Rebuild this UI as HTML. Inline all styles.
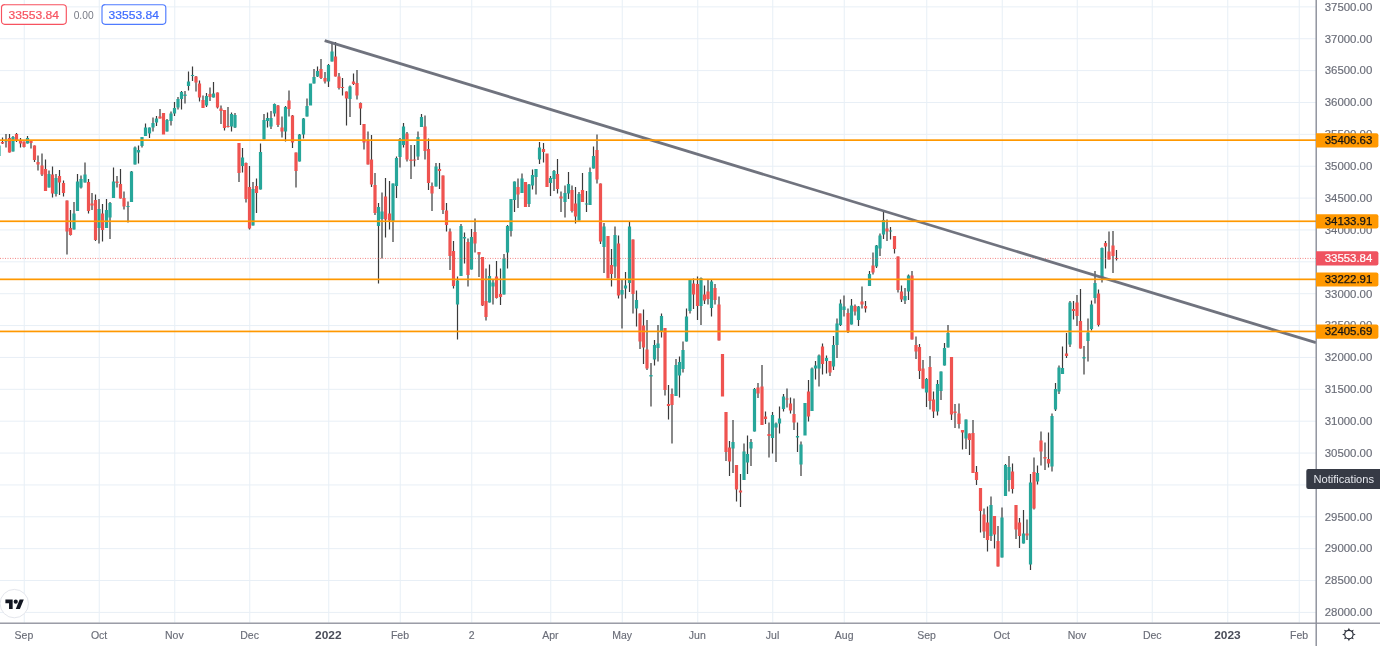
<!DOCTYPE html><html><head><meta charset="utf-8"><title>Chart</title><style>html,body{margin:0;padding:0;background:#fff;overflow:hidden}svg{display:block}</style></head><body><svg width="1380" height="646" viewBox="0 0 1380 646" font-family='"Liberation Sans", sans-serif'><rect width="1380" height="646" fill="#fff"/><g fill="#e8eff6"><rect x="23.75" y="0" width="1" height="622.5"/><rect x="98.75" y="0" width="1" height="622.5"/><rect x="174.25" y="0" width="1" height="622.5"/><rect x="249.25" y="0" width="1" height="622.5"/><rect x="328.25" y="0" width="1" height="622.5"/><rect x="399.75" y="0" width="1" height="622.5"/><rect x="471.25" y="0" width="1" height="622.5"/><rect x="550.25" y="0" width="1" height="622.5"/><rect x="621.75" y="0" width="1" height="622.5"/><rect x="697.25" y="0" width="1" height="622.5"/><rect x="772.25" y="0" width="1" height="622.5"/><rect x="843.75" y="0" width="1" height="622.5"/><rect x="926.25" y="0" width="1" height="622.5"/><rect x="1001.75" y="0" width="1" height="622.5"/><rect x="1076.75" y="0" width="1" height="622.5"/><rect x="1151.75" y="0" width="1" height="622.5"/><rect x="1227.25" y="0" width="1" height="622.5"/><rect x="1298.75" y="0" width="1" height="622.5"/><rect x="0" y="611.90" width="1316" height="1"/><rect x="0" y="580.03" width="1316" height="1"/><rect x="0" y="548.16" width="1316" height="1"/><rect x="0" y="516.29" width="1316" height="1"/><rect x="0" y="484.42" width="1316" height="1"/><rect x="0" y="452.55" width="1316" height="1"/><rect x="0" y="420.68" width="1316" height="1"/><rect x="0" y="388.81" width="1316" height="1"/><rect x="0" y="356.94" width="1316" height="1"/><rect x="0" y="325.07" width="1316" height="1"/><rect x="0" y="293.20" width="1316" height="1"/><rect x="0" y="261.33" width="1316" height="1"/><rect x="0" y="229.46" width="1316" height="1"/><rect x="0" y="197.59" width="1316" height="1"/><rect x="0" y="165.72" width="1316" height="1"/><rect x="0" y="133.85" width="1316" height="1"/><rect x="0" y="101.98" width="1316" height="1"/><rect x="0" y="70.11" width="1316" height="1"/><rect x="0" y="38.24" width="1316" height="1"/><rect x="0" y="6.37" width="1316" height="1"/></g><g fill="#3a3a3a"><rect x="-1.60" y="143.50" width="1.2" height="13.50"/><rect x="1.90" y="137.50" width="1.2" height="6.50"/><rect x="5.40" y="134.00" width="1.2" height="13.50"/><rect x="8.90" y="134.00" width="1.2" height="18.50"/><rect x="12.40" y="136.00" width="1.2" height="15.50"/><rect x="15.90" y="133.00" width="1.2" height="9.00"/><rect x="19.90" y="138.00" width="1.2" height="9.50"/><rect x="23.40" y="141.50" width="1.2" height="6.00"/><rect x="26.90" y="136.00" width="1.2" height="7.50"/><rect x="30.40" y="140.50" width="1.2" height="8.00"/><rect x="33.90" y="145.50" width="1.2" height="16.50"/><rect x="37.40" y="155.50" width="1.2" height="15.00"/><rect x="41.40" y="153.50" width="1.2" height="22.50"/><rect x="44.90" y="159.50" width="1.2" height="31.50"/><rect x="48.40" y="170.50" width="1.2" height="17.00"/><rect x="51.90" y="166.50" width="1.2" height="31.00"/><rect x="55.40" y="174.00" width="1.2" height="22.50"/><rect x="58.90" y="170.00" width="1.2" height="25.00"/><rect x="62.90" y="180.50" width="1.2" height="16.00"/><rect x="66.40" y="200.50" width="1.2" height="54.00"/><rect x="69.90" y="210.00" width="1.2" height="25.50"/><rect x="73.40" y="202.00" width="1.2" height="27.50"/><rect x="76.90" y="174.00" width="1.2" height="37.00"/><rect x="80.40" y="175.50" width="1.2" height="13.00"/><rect x="84.40" y="162.50" width="1.2" height="20.00"/><rect x="87.90" y="179.00" width="1.2" height="34.50"/><rect x="91.40" y="193.00" width="1.2" height="17.00"/><rect x="94.90" y="194.50" width="1.2" height="46.50"/><rect x="98.40" y="199.00" width="1.2" height="44.50"/><rect x="101.90" y="204.00" width="1.2" height="37.50"/><rect x="105.90" y="199.00" width="1.2" height="29.00"/><rect x="109.40" y="202.00" width="1.2" height="37.00"/><rect x="112.90" y="167.50" width="1.2" height="30.50"/><rect x="116.40" y="176.00" width="1.2" height="11.50"/><rect x="119.90" y="169.00" width="1.2" height="29.50"/><rect x="123.40" y="191.50" width="1.2" height="18.00"/><rect x="127.40" y="201.50" width="1.2" height="21.00"/><rect x="130.90" y="171.00" width="1.2" height="31.00"/><rect x="134.40" y="146.50" width="1.2" height="18.00"/><rect x="137.90" y="145.50" width="1.2" height="18.00"/><rect x="141.40" y="137.00" width="1.2" height="10.50"/><rect x="144.90" y="123.50" width="1.2" height="12.50"/><rect x="148.90" y="127.50" width="1.2" height="10.50"/><rect x="152.40" y="117.50" width="1.2" height="14.00"/><rect x="155.90" y="116.00" width="1.2" height="10.00"/><rect x="159.40" y="109.00" width="1.2" height="9.50"/><rect x="166.40" y="119.00" width="1.2" height="12.50"/><rect x="170.40" y="111.50" width="1.2" height="14.00"/><rect x="173.90" y="102.00" width="1.2" height="14.00"/><rect x="177.40" y="97.00" width="1.2" height="12.50"/><rect x="180.90" y="91.00" width="1.2" height="18.50"/><rect x="184.40" y="91.00" width="1.2" height="12.50"/><rect x="187.90" y="71.50" width="1.2" height="19.00"/><rect x="191.90" y="66.50" width="1.2" height="14.50"/><rect x="195.40" y="76.00" width="1.2" height="15.50"/><rect x="198.90" y="80.50" width="1.2" height="21.00"/><rect x="202.40" y="95.50" width="1.2" height="12.50"/><rect x="205.90" y="93.00" width="1.2" height="14.00"/><rect x="209.40" y="87.50" width="1.2" height="13.50"/><rect x="212.90" y="82.00" width="1.2" height="15.50"/><rect x="216.90" y="92.50" width="1.2" height="16.00"/><rect x="220.40" y="105.50" width="1.2" height="18.50"/><rect x="223.90" y="110.00" width="1.2" height="20.50"/><rect x="227.40" y="107.00" width="1.2" height="20.50"/><rect x="230.90" y="112.50" width="1.2" height="19.00"/><rect x="234.40" y="113.00" width="1.2" height="15.00"/><rect x="238.40" y="143.00" width="1.2" height="39.00"/><rect x="241.90" y="148.00" width="1.2" height="24.50"/><rect x="245.40" y="162.50" width="1.2" height="40.00"/><rect x="248.90" y="166.00" width="1.2" height="63.50"/><rect x="252.40" y="182.00" width="1.2" height="43.50"/><rect x="255.90" y="178.50" width="1.2" height="34.50"/><rect x="259.90" y="143.50" width="1.2" height="46.00"/><rect x="263.40" y="114.00" width="1.2" height="25.50"/><rect x="266.90" y="112.50" width="1.2" height="15.00"/><rect x="270.40" y="111.00" width="1.2" height="18.00"/><rect x="273.90" y="103.50" width="1.2" height="13.00"/><rect x="277.40" y="105.00" width="1.2" height="22.00"/><rect x="281.40" y="116.50" width="1.2" height="21.00"/><rect x="284.90" y="106.00" width="1.2" height="35.50"/><rect x="288.40" y="90.50" width="1.2" height="26.00"/><rect x="291.90" y="115.00" width="1.2" height="33.00"/><rect x="295.40" y="152.50" width="1.2" height="35.00"/><rect x="298.90" y="134.00" width="1.2" height="27.50"/><rect x="302.90" y="118.00" width="1.2" height="20.50"/><rect x="306.40" y="98.50" width="1.2" height="18.00"/><rect x="313.40" y="69.00" width="1.2" height="14.50"/><rect x="316.90" y="66.50" width="1.2" height="10.50"/><rect x="320.40" y="59.00" width="1.2" height="20.00"/><rect x="324.40" y="72.00" width="1.2" height="11.50"/><rect x="327.90" y="64.00" width="1.2" height="23.00"/><rect x="331.40" y="42.00" width="1.2" height="19.50"/><rect x="334.90" y="42.00" width="1.2" height="34.50"/><rect x="338.40" y="73.00" width="1.2" height="16.50"/><rect x="341.90" y="78.00" width="1.2" height="17.50"/><rect x="345.90" y="91.50" width="1.2" height="34.00"/><rect x="349.40" y="85.50" width="1.2" height="31.50"/><rect x="352.90" y="73.50" width="1.2" height="11.50"/><rect x="356.40" y="70.00" width="1.2" height="29.50"/><rect x="359.90" y="102.50" width="1.2" height="22.50"/><rect x="363.40" y="124.00" width="1.2" height="25.50"/><rect x="367.40" y="131.50" width="1.2" height="33.00"/><rect x="370.90" y="135.00" width="1.2" height="52.00"/><rect x="374.40" y="173.00" width="1.2" height="42.00"/><rect x="377.90" y="203.00" width="1.2" height="80.50"/><rect x="381.40" y="192.50" width="1.2" height="66.00"/><rect x="384.90" y="178.00" width="1.2" height="59.50"/><rect x="388.90" y="181.00" width="1.2" height="48.50"/><rect x="392.40" y="183.50" width="1.2" height="58.50"/><rect x="395.90" y="156.50" width="1.2" height="41.50"/><rect x="399.40" y="138.00" width="1.2" height="29.50"/><rect x="402.90" y="123.00" width="1.2" height="24.50"/><rect x="406.40" y="132.00" width="1.2" height="29.50"/><rect x="410.40" y="145.00" width="1.2" height="34.00"/><rect x="413.90" y="145.00" width="1.2" height="21.50"/><rect x="417.40" y="131.50" width="1.2" height="28.50"/><rect x="420.90" y="114.00" width="1.2" height="13.00"/><rect x="424.40" y="115.50" width="1.2" height="44.00"/><rect x="427.90" y="138.50" width="1.2" height="51.50"/><rect x="431.40" y="182.50" width="1.2" height="28.50"/><rect x="435.40" y="163.00" width="1.2" height="23.50"/><rect x="438.90" y="163.00" width="1.2" height="26.00"/><rect x="442.40" y="175.50" width="1.2" height="38.50"/><rect x="445.90" y="203.00" width="1.2" height="28.50"/><rect x="449.40" y="228.50" width="1.2" height="41.50"/><rect x="452.90" y="241.00" width="1.2" height="47.50"/><rect x="456.90" y="276.50" width="1.2" height="63.00"/><rect x="460.40" y="224.00" width="1.2" height="52.00"/><rect x="463.90" y="232.50" width="1.2" height="31.00"/><rect x="467.40" y="238.50" width="1.2" height="48.00"/><rect x="470.90" y="229.00" width="1.2" height="40.50"/><rect x="474.40" y="218.50" width="1.2" height="34.00"/><rect x="478.40" y="252.00" width="1.2" height="25.00"/><rect x="481.90" y="257.00" width="1.2" height="49.00"/><rect x="485.40" y="268.50" width="1.2" height="52.00"/><rect x="488.90" y="264.50" width="1.2" height="38.00"/><rect x="492.40" y="280.00" width="1.2" height="24.50"/><rect x="495.90" y="261.00" width="1.2" height="37.50"/><rect x="499.90" y="268.50" width="1.2" height="36.50"/><rect x="503.40" y="254.00" width="1.2" height="40.50"/><rect x="506.90" y="225.00" width="1.2" height="43.50"/><rect x="510.40" y="199.00" width="1.2" height="37.50"/><rect x="513.90" y="181.50" width="1.2" height="30.50"/><rect x="517.40" y="178.50" width="1.2" height="29.50"/><rect x="521.40" y="173.50" width="1.2" height="19.50"/><rect x="528.40" y="184.00" width="1.2" height="23.00"/><rect x="531.90" y="169.50" width="1.2" height="20.00"/><rect x="535.40" y="169.00" width="1.2" height="25.50"/><rect x="538.90" y="142.00" width="1.2" height="22.00"/><rect x="542.90" y="143.00" width="1.2" height="19.50"/><rect x="549.90" y="176.00" width="1.2" height="20.00"/><rect x="553.40" y="170.00" width="1.2" height="21.00"/><rect x="556.90" y="159.00" width="1.2" height="34.50"/><rect x="560.40" y="191.50" width="1.2" height="20.50"/><rect x="564.40" y="185.50" width="1.2" height="32.00"/><rect x="567.90" y="172.00" width="1.2" height="27.00"/><rect x="571.40" y="185.50" width="1.2" height="27.00"/><rect x="574.90" y="187.00" width="1.2" height="36.50"/><rect x="578.40" y="192.00" width="1.2" height="28.50"/><rect x="581.90" y="173.00" width="1.2" height="29.00"/><rect x="585.90" y="191.00" width="1.2" height="21.00"/><rect x="589.40" y="167.50" width="1.2" height="37.50"/><rect x="592.90" y="146.50" width="1.2" height="22.00"/><rect x="596.40" y="134.50" width="1.2" height="49.00"/><rect x="599.90" y="183.50" width="1.2" height="60.50"/><rect x="603.40" y="223.00" width="1.2" height="50.00"/><rect x="610.90" y="249.00" width="1.2" height="37.50"/><rect x="614.40" y="226.50" width="1.2" height="51.50"/><rect x="617.90" y="235.50" width="1.2" height="63.00"/><rect x="621.40" y="279.50" width="1.2" height="49.00"/><rect x="624.90" y="272.00" width="1.2" height="26.50"/><rect x="628.90" y="221.50" width="1.2" height="70.50"/><rect x="632.40" y="239.50" width="1.2" height="74.00"/><rect x="635.90" y="290.50" width="1.2" height="36.00"/><rect x="639.40" y="313.50" width="1.2" height="35.50"/><rect x="642.90" y="309.50" width="1.2" height="54.50"/><rect x="646.40" y="320.00" width="1.2" height="50.00"/><rect x="650.40" y="363.00" width="1.2" height="43.50"/><rect x="653.90" y="340.00" width="1.2" height="25.50"/><rect x="657.40" y="325.00" width="1.2" height="36.50"/><rect x="660.90" y="313.50" width="1.2" height="24.00"/><rect x="664.40" y="328.00" width="1.2" height="67.50"/><rect x="667.90" y="385.00" width="1.2" height="34.50"/><rect x="671.40" y="388.50" width="1.2" height="55.00"/><rect x="675.40" y="359.00" width="1.2" height="37.00"/><rect x="678.90" y="356.50" width="1.2" height="41.00"/><rect x="682.40" y="341.50" width="1.2" height="31.00"/><rect x="685.90" y="308.50" width="1.2" height="33.00"/><rect x="689.40" y="280.00" width="1.2" height="33.50"/><rect x="692.90" y="278.50" width="1.2" height="30.50"/><rect x="696.90" y="276.50" width="1.2" height="43.50"/><rect x="700.40" y="277.50" width="1.2" height="47.50"/><rect x="703.90" y="285.50" width="1.2" height="18.50"/><rect x="707.40" y="280.00" width="1.2" height="24.50"/><rect x="710.90" y="280.00" width="1.2" height="36.50"/><rect x="714.40" y="284.00" width="1.2" height="20.50"/><rect x="718.40" y="296.50" width="1.2" height="44.00"/><rect x="725.40" y="412.00" width="1.2" height="49.00"/><rect x="728.90" y="441.00" width="1.2" height="35.00"/><rect x="732.40" y="420.00" width="1.2" height="53.00"/><rect x="735.90" y="465.00" width="1.2" height="36.50"/><rect x="739.90" y="474.00" width="1.2" height="33.00"/><rect x="743.40" y="443.50" width="1.2" height="36.50"/><rect x="746.90" y="435.50" width="1.2" height="38.50"/><rect x="750.40" y="439.00" width="1.2" height="27.00"/><rect x="753.90" y="388.00" width="1.2" height="43.50"/><rect x="757.40" y="383.00" width="1.2" height="15.00"/><rect x="761.40" y="365.00" width="1.2" height="60.00"/><rect x="764.90" y="411.50" width="1.2" height="12.50"/><rect x="768.40" y="422.50" width="1.2" height="35.00"/><rect x="771.90" y="412.00" width="1.2" height="41.50"/><rect x="775.40" y="422.50" width="1.2" height="39.50"/><rect x="778.90" y="406.50" width="1.2" height="27.00"/><rect x="782.90" y="394.00" width="1.2" height="17.50"/><rect x="786.40" y="388.50" width="1.2" height="19.00"/><rect x="789.90" y="397.50" width="1.2" height="16.00"/><rect x="793.40" y="398.50" width="1.2" height="31.50"/><rect x="796.90" y="422.50" width="1.2" height="29.50"/><rect x="800.40" y="441.50" width="1.2" height="34.50"/><rect x="807.90" y="380.00" width="1.2" height="41.50"/><rect x="811.40" y="367.50" width="1.2" height="43.50"/><rect x="814.90" y="361.00" width="1.2" height="18.50"/><rect x="818.40" y="354.50" width="1.2" height="32.00"/><rect x="821.90" y="343.50" width="1.2" height="31.00"/><rect x="825.90" y="355.50" width="1.2" height="18.00"/><rect x="829.40" y="361.00" width="1.2" height="15.00"/><rect x="832.90" y="336.00" width="1.2" height="34.00"/><rect x="836.40" y="318.50" width="1.2" height="39.50"/><rect x="839.90" y="299.50" width="1.2" height="26.50"/><rect x="843.40" y="295.50" width="1.2" height="21.00"/><rect x="847.40" y="308.50" width="1.2" height="24.50"/><rect x="850.90" y="299.00" width="1.2" height="25.50"/><rect x="854.40" y="304.50" width="1.2" height="11.00"/><rect x="857.90" y="306.00" width="1.2" height="20.00"/><rect x="861.40" y="286.50" width="1.2" height="22.00"/><rect x="864.90" y="301.00" width="1.2" height="11.50"/><rect x="868.90" y="271.00" width="1.2" height="15.00"/><rect x="872.40" y="252.50" width="1.2" height="22.00"/><rect x="875.90" y="245.00" width="1.2" height="23.00"/><rect x="879.40" y="233.50" width="1.2" height="22.50"/><rect x="882.90" y="211.50" width="1.2" height="27.50"/><rect x="886.40" y="219.50" width="1.2" height="21.50"/><rect x="889.90" y="227.00" width="1.2" height="12.50"/><rect x="893.90" y="236.00" width="1.2" height="17.50"/><rect x="897.40" y="256.50" width="1.2" height="36.00"/><rect x="900.90" y="285.50" width="1.2" height="16.50"/><rect x="904.40" y="288.00" width="1.2" height="16.00"/><rect x="907.90" y="274.50" width="1.2" height="25.50"/><rect x="911.40" y="271.00" width="1.2" height="68.50"/><rect x="915.40" y="336.50" width="1.2" height="22.50"/><rect x="918.90" y="344.00" width="1.2" height="35.00"/><rect x="922.40" y="360.00" width="1.2" height="28.50"/><rect x="925.90" y="378.00" width="1.2" height="29.00"/><rect x="929.40" y="356.00" width="1.2" height="53.50"/><rect x="932.90" y="391.50" width="1.2" height="26.50"/><rect x="936.90" y="380.00" width="1.2" height="35.50"/><rect x="940.40" y="371.50" width="1.2" height="28.50"/><rect x="943.90" y="343.00" width="1.2" height="22.50"/><rect x="947.40" y="325.00" width="1.2" height="22.50"/><rect x="950.90" y="357.00" width="1.2" height="63.00"/><rect x="954.40" y="404.00" width="1.2" height="24.00"/><rect x="958.40" y="403.50" width="1.2" height="25.00"/><rect x="961.90" y="430.00" width="1.2" height="19.50"/><rect x="965.40" y="419.50" width="1.2" height="29.50"/><rect x="968.90" y="433.50" width="1.2" height="21.50"/><rect x="972.40" y="420.00" width="1.2" height="53.00"/><rect x="975.90" y="466.00" width="1.2" height="19.00"/><rect x="979.90" y="488.00" width="1.2" height="44.50"/><rect x="983.40" y="508.50" width="1.2" height="29.50"/><rect x="986.90" y="506.50" width="1.2" height="45.00"/><rect x="990.40" y="496.50" width="1.2" height="44.50"/><rect x="993.90" y="516.00" width="1.2" height="32.50"/><rect x="997.40" y="526.00" width="1.2" height="40.50"/><rect x="1001.40" y="507.50" width="1.2" height="50.00"/><rect x="1004.90" y="464.00" width="1.2" height="32.00"/><rect x="1008.40" y="456.00" width="1.2" height="35.50"/><rect x="1011.90" y="463.50" width="1.2" height="30.00"/><rect x="1015.40" y="505.00" width="1.2" height="34.00"/><rect x="1018.90" y="518.00" width="1.2" height="30.00"/><rect x="1022.90" y="510.00" width="1.2" height="33.50"/><rect x="1026.40" y="519.50" width="1.2" height="20.50"/><rect x="1029.90" y="474.00" width="1.2" height="96.00"/><rect x="1033.40" y="457.50" width="1.2" height="52.00"/><rect x="1036.90" y="465.50" width="1.2" height="19.00"/><rect x="1040.40" y="431.50" width="1.2" height="34.00"/><rect x="1044.40" y="442.50" width="1.2" height="27.50"/><rect x="1047.90" y="432.50" width="1.2" height="35.00"/><rect x="1051.40" y="413.50" width="1.2" height="58.00"/><rect x="1054.90" y="383.00" width="1.2" height="28.00"/><rect x="1058.40" y="365.50" width="1.2" height="28.50"/><rect x="1061.90" y="346.50" width="1.2" height="27.50"/><rect x="1065.90" y="333.00" width="1.2" height="25.00"/><rect x="1069.40" y="301.00" width="1.2" height="46.00"/><rect x="1072.90" y="301.00" width="1.2" height="18.50"/><rect x="1076.40" y="295.00" width="1.2" height="31.00"/><rect x="1079.90" y="289.00" width="1.2" height="59.50"/><rect x="1083.40" y="346.00" width="1.2" height="28.50"/><rect x="1087.40" y="318.50" width="1.2" height="43.00"/><rect x="1090.90" y="300.50" width="1.2" height="30.00"/><rect x="1094.40" y="271.00" width="1.2" height="32.50"/><rect x="1097.90" y="289.50" width="1.2" height="37.00"/><rect x="1101.40" y="247.50" width="1.2" height="35.00"/><rect x="1104.90" y="241.00" width="1.2" height="27.50"/><rect x="1108.40" y="231.50" width="1.2" height="28.00"/><rect x="1112.40" y="231.00" width="1.2" height="42.00"/><rect x="1115.90" y="250.00" width="1.2" height="10.50"/></g><g fill="#26a69a"><rect x="-2.60" y="145.50" width="3.2" height="10.50"/><rect x="4.40" y="140.50" width="3.2" height="1.00"/><rect x="11.40" y="137.00" width="3.2" height="14.50"/><rect x="25.90" y="138.00" width="3.2" height="5.50"/><rect x="47.40" y="174.00" width="3.2" height="13.50"/><rect x="54.40" y="178.00" width="3.2" height="16.00"/><rect x="72.40" y="213.50" width="3.2" height="16.00"/><rect x="75.90" y="181.50" width="3.2" height="29.50"/><rect x="79.40" y="179.00" width="3.2" height="8.50"/><rect x="83.40" y="174.50" width="3.2" height="8.00"/><rect x="97.40" y="209.00" width="3.2" height="19.00"/><rect x="104.90" y="210.00" width="3.2" height="18.00"/><rect x="108.40" y="203.00" width="3.2" height="14.50"/><rect x="111.90" y="181.50" width="3.2" height="16.50"/><rect x="126.40" y="206.00" width="3.2" height="1.00"/><rect x="129.90" y="171.50" width="3.2" height="30.50"/><rect x="133.40" y="147.50" width="3.2" height="17.00"/><rect x="136.90" y="150.00" width="3.2" height="2.50"/><rect x="140.40" y="137.00" width="3.2" height="9.00"/><rect x="143.90" y="127.50" width="3.2" height="8.50"/><rect x="147.90" y="127.50" width="3.2" height="6.00"/><rect x="151.40" y="123.00" width="3.2" height="4.50"/><rect x="154.90" y="118.50" width="3.2" height="4.00"/><rect x="165.40" y="120.00" width="3.2" height="11.50"/><rect x="169.40" y="113.50" width="3.2" height="7.50"/><rect x="172.90" y="108.00" width="3.2" height="5.50"/><rect x="176.40" y="99.00" width="3.2" height="8.50"/><rect x="179.90" y="92.00" width="3.2" height="7.00"/><rect x="183.40" y="94.50" width="3.2" height="1.50"/><rect x="186.90" y="81.50" width="3.2" height="4.50"/><rect x="190.90" y="75.00" width="3.2" height="1.00"/><rect x="204.90" y="96.00" width="3.2" height="9.50"/><rect x="211.90" y="93.50" width="3.2" height="4.00"/><rect x="229.90" y="114.00" width="3.2" height="12.50"/><rect x="233.40" y="115.00" width="3.2" height="12.50"/><rect x="240.90" y="157.50" width="3.2" height="8.50"/><rect x="251.40" y="189.00" width="3.2" height="36.50"/><rect x="258.90" y="152.00" width="3.2" height="37.50"/><rect x="262.40" y="120.00" width="3.2" height="19.50"/><rect x="265.90" y="118.00" width="3.2" height="3.00"/><rect x="269.40" y="118.00" width="3.2" height="8.50"/><rect x="272.90" y="104.00" width="3.2" height="9.50"/><rect x="283.90" y="107.00" width="3.2" height="24.50"/><rect x="297.90" y="134.50" width="3.2" height="27.00"/><rect x="301.90" y="118.50" width="3.2" height="16.00"/><rect x="305.40" y="106.00" width="3.2" height="10.50"/><rect x="308.90" y="83.50" width="3.2" height="22.00"/><rect x="312.40" y="77.00" width="3.2" height="6.50"/><rect x="315.90" y="71.00" width="3.2" height="5.50"/><rect x="326.90" y="65.00" width="3.2" height="16.50"/><rect x="330.40" y="51.50" width="3.2" height="10.00"/><rect x="348.40" y="86.50" width="3.2" height="12.50"/><rect x="376.90" y="207.00" width="3.2" height="19.00"/><rect x="380.40" y="211.50" width="3.2" height="7.50"/><rect x="391.40" y="183.50" width="3.2" height="37.50"/><rect x="394.90" y="158.00" width="3.2" height="28.00"/><rect x="398.40" y="139.00" width="3.2" height="18.00"/><rect x="401.90" y="126.50" width="3.2" height="18.50"/><rect x="416.40" y="137.00" width="3.2" height="19.50"/><rect x="419.90" y="117.00" width="3.2" height="10.00"/><rect x="434.40" y="166.50" width="3.2" height="20.00"/><rect x="455.90" y="280.50" width="3.2" height="24.00"/><rect x="459.40" y="226.00" width="3.2" height="50.00"/><rect x="462.90" y="237.00" width="3.2" height="1.50"/><rect x="469.90" y="237.00" width="3.2" height="32.50"/><rect x="487.90" y="276.00" width="3.2" height="26.50"/><rect x="491.40" y="282.50" width="3.2" height="4.00"/><rect x="502.40" y="258.50" width="3.2" height="36.00"/><rect x="505.90" y="226.00" width="3.2" height="26.50"/><rect x="509.40" y="199.00" width="3.2" height="32.00"/><rect x="512.90" y="181.50" width="3.2" height="18.50"/><rect x="520.40" y="178.50" width="3.2" height="14.50"/><rect x="527.40" y="184.50" width="3.2" height="19.50"/><rect x="530.90" y="175.00" width="3.2" height="10.50"/><rect x="534.40" y="169.00" width="3.2" height="8.00"/><rect x="537.90" y="147.50" width="3.2" height="12.00"/><rect x="548.90" y="178.00" width="3.2" height="5.00"/><rect x="552.40" y="171.00" width="3.2" height="8.00"/><rect x="563.40" y="193.00" width="3.2" height="9.00"/><rect x="566.90" y="184.00" width="3.2" height="9.50"/><rect x="577.40" y="194.00" width="3.2" height="26.50"/><rect x="584.90" y="203.50" width="3.2" height="1.00"/><rect x="588.40" y="172.00" width="3.2" height="33.00"/><rect x="591.90" y="156.00" width="3.2" height="12.50"/><rect x="602.40" y="226.50" width="3.2" height="20.50"/><rect x="613.40" y="235.00" width="3.2" height="31.50"/><rect x="620.40" y="290.00" width="3.2" height="4.50"/><rect x="623.90" y="285.50" width="3.2" height="3.00"/><rect x="627.90" y="226.50" width="3.2" height="56.50"/><rect x="634.90" y="300.00" width="3.2" height="8.50"/><rect x="649.40" y="375.00" width="3.2" height="1.50"/><rect x="652.90" y="345.00" width="3.2" height="14.50"/><rect x="656.40" y="343.50" width="3.2" height="4.50"/><rect x="659.90" y="316.00" width="3.2" height="15.00"/><rect x="674.40" y="365.00" width="3.2" height="31.00"/><rect x="677.90" y="362.00" width="3.2" height="13.50"/><rect x="681.40" y="350.00" width="3.2" height="19.00"/><rect x="684.90" y="316.50" width="3.2" height="25.00"/><rect x="688.40" y="280.00" width="3.2" height="31.00"/><rect x="699.40" y="278.00" width="3.2" height="28.00"/><rect x="709.90" y="281.50" width="3.2" height="26.50"/><rect x="731.40" y="442.00" width="3.2" height="6.50"/><rect x="742.40" y="451.50" width="3.2" height="28.50"/><rect x="745.90" y="454.00" width="3.2" height="8.50"/><rect x="749.40" y="442.00" width="3.2" height="6.50"/><rect x="752.90" y="389.00" width="3.2" height="42.50"/><rect x="770.90" y="415.00" width="3.2" height="23.00"/><rect x="774.40" y="423.50" width="3.2" height="4.00"/><rect x="777.90" y="418.50" width="3.2" height="5.00"/><rect x="781.90" y="396.50" width="3.2" height="12.50"/><rect x="795.90" y="436.00" width="3.2" height="1.50"/><rect x="799.40" y="444.50" width="3.2" height="20.00"/><rect x="803.40" y="403.00" width="3.2" height="32.50"/><rect x="810.40" y="368.50" width="3.2" height="42.50"/><rect x="813.90" y="365.50" width="3.2" height="3.00"/><rect x="817.40" y="355.50" width="3.2" height="13.00"/><rect x="824.90" y="358.00" width="3.2" height="3.00"/><rect x="831.90" y="345.00" width="3.2" height="21.50"/><rect x="835.40" y="323.50" width="3.2" height="21.50"/><rect x="838.90" y="303.50" width="3.2" height="21.50"/><rect x="842.40" y="306.50" width="3.2" height="3.50"/><rect x="849.90" y="305.50" width="3.2" height="19.00"/><rect x="856.90" y="306.50" width="3.2" height="13.50"/><rect x="867.90" y="274.00" width="3.2" height="12.00"/><rect x="874.90" y="245.50" width="3.2" height="21.00"/><rect x="878.40" y="235.50" width="3.2" height="13.00"/><rect x="881.90" y="220.00" width="3.2" height="14.50"/><rect x="888.90" y="230.50" width="3.2" height="1.00"/><rect x="903.40" y="296.00" width="3.2" height="4.50"/><rect x="906.90" y="275.50" width="3.2" height="16.00"/><rect x="924.90" y="379.00" width="3.2" height="13.50"/><rect x="935.90" y="384.00" width="3.2" height="27.50"/><rect x="939.40" y="371.50" width="3.2" height="19.50"/><rect x="942.90" y="348.00" width="3.2" height="17.50"/><rect x="946.40" y="333.00" width="3.2" height="14.50"/><rect x="964.40" y="419.50" width="3.2" height="19.00"/><rect x="989.40" y="505.00" width="3.2" height="31.00"/><rect x="1000.40" y="517.50" width="3.2" height="40.00"/><rect x="1003.90" y="465.00" width="3.2" height="31.00"/><rect x="1007.40" y="467.00" width="3.2" height="13.00"/><rect x="1021.90" y="533.50" width="3.2" height="10.00"/><rect x="1028.90" y="482.50" width="3.2" height="82.00"/><rect x="1035.90" y="473.00" width="3.2" height="8.50"/><rect x="1050.40" y="416.00" width="3.2" height="50.50"/><rect x="1053.90" y="389.00" width="3.2" height="20.50"/><rect x="1057.40" y="367.50" width="3.2" height="24.00"/><rect x="1060.90" y="368.00" width="3.2" height="6.00"/><rect x="1068.40" y="302.50" width="3.2" height="42.00"/><rect x="1082.40" y="357.00" width="3.2" height="1.50"/><rect x="1086.40" y="332.50" width="3.2" height="8.50"/><rect x="1089.90" y="304.50" width="3.2" height="24.50"/><rect x="1093.40" y="283.00" width="3.2" height="15.00"/><rect x="1100.40" y="248.00" width="3.2" height="29.50"/></g><g fill="#ef5350"><rect x="0.90" y="142.00" width="3.2" height="1.50"/><rect x="7.90" y="138.00" width="3.2" height="14.50"/><rect x="14.90" y="134.00" width="3.2" height="6.50"/><rect x="18.90" y="140.50" width="3.2" height="3.00"/><rect x="22.40" y="141.50" width="3.2" height="5.50"/><rect x="29.40" y="141.00" width="3.2" height="2.00"/><rect x="32.90" y="145.50" width="3.2" height="14.50"/><rect x="36.40" y="162.00" width="3.2" height="2.50"/><rect x="40.40" y="165.50" width="3.2" height="9.00"/><rect x="43.90" y="169.00" width="3.2" height="22.00"/><rect x="50.90" y="174.50" width="3.2" height="19.00"/><rect x="57.90" y="176.00" width="3.2" height="6.50"/><rect x="61.90" y="183.00" width="3.2" height="10.00"/><rect x="65.40" y="200.50" width="3.2" height="31.00"/><rect x="68.90" y="228.00" width="3.2" height="7.00"/><rect x="86.90" y="182.00" width="3.2" height="29.00"/><rect x="90.40" y="203.50" width="3.2" height="2.00"/><rect x="93.90" y="200.00" width="3.2" height="40.00"/><rect x="100.90" y="213.50" width="3.2" height="16.50"/><rect x="115.40" y="181.50" width="3.2" height="1.50"/><rect x="118.90" y="184.00" width="3.2" height="14.50"/><rect x="122.40" y="198.00" width="3.2" height="8.50"/><rect x="158.40" y="116.50" width="3.2" height="2.00"/><rect x="161.90" y="113.00" width="3.2" height="21.50"/><rect x="194.40" y="76.50" width="3.2" height="6.00"/><rect x="197.90" y="83.50" width="3.2" height="14.00"/><rect x="201.40" y="100.00" width="3.2" height="8.00"/><rect x="208.40" y="94.00" width="3.2" height="3.00"/><rect x="215.90" y="92.50" width="3.2" height="15.00"/><rect x="219.40" y="108.50" width="3.2" height="2.50"/><rect x="222.90" y="110.00" width="3.2" height="18.00"/><rect x="226.40" y="126.00" width="3.2" height="1.00"/><rect x="237.40" y="143.00" width="3.2" height="30.00"/><rect x="244.40" y="163.00" width="3.2" height="36.00"/><rect x="247.90" y="187.00" width="3.2" height="41.50"/><rect x="254.90" y="186.00" width="3.2" height="7.00"/><rect x="276.40" y="105.50" width="3.2" height="19.50"/><rect x="280.40" y="127.50" width="3.2" height="4.00"/><rect x="287.40" y="100.50" width="3.2" height="8.50"/><rect x="290.90" y="115.50" width="3.2" height="27.00"/><rect x="294.40" y="152.50" width="3.2" height="18.50"/><rect x="319.40" y="69.00" width="3.2" height="9.00"/><rect x="323.40" y="78.00" width="3.2" height="3.50"/><rect x="333.90" y="56.50" width="3.2" height="20.00"/><rect x="337.40" y="76.50" width="3.2" height="11.50"/><rect x="340.90" y="87.00" width="3.2" height="1.00"/><rect x="344.90" y="91.50" width="3.2" height="7.00"/><rect x="351.90" y="81.50" width="3.2" height="2.50"/><rect x="355.40" y="83.00" width="3.2" height="12.50"/><rect x="358.90" y="103.00" width="3.2" height="5.50"/><rect x="362.40" y="124.00" width="3.2" height="18.50"/><rect x="366.40" y="141.00" width="3.2" height="23.50"/><rect x="369.90" y="159.50" width="3.2" height="25.00"/><rect x="373.40" y="185.00" width="3.2" height="28.00"/><rect x="383.90" y="196.50" width="3.2" height="23.00"/><rect x="387.90" y="213.50" width="3.2" height="7.00"/><rect x="405.40" y="133.50" width="3.2" height="26.00"/><rect x="409.40" y="159.50" width="3.2" height="1.50"/><rect x="412.90" y="159.50" width="3.2" height="1.00"/><rect x="423.40" y="126.50" width="3.2" height="24.50"/><rect x="426.90" y="149.00" width="3.2" height="34.00"/><rect x="430.40" y="186.00" width="3.2" height="7.50"/><rect x="437.90" y="169.00" width="3.2" height="2.00"/><rect x="441.40" y="175.50" width="3.2" height="34.50"/><rect x="444.90" y="210.50" width="3.2" height="14.50"/><rect x="448.40" y="231.50" width="3.2" height="24.50"/><rect x="451.90" y="251.00" width="3.2" height="35.00"/><rect x="466.40" y="242.00" width="3.2" height="33.00"/><rect x="473.40" y="232.00" width="3.2" height="11.50"/><rect x="477.40" y="252.00" width="3.2" height="2.50"/><rect x="480.90" y="257.00" width="3.2" height="48.50"/><rect x="484.40" y="301.00" width="3.2" height="16.00"/><rect x="494.90" y="276.50" width="3.2" height="21.50"/><rect x="498.90" y="294.00" width="3.2" height="3.00"/><rect x="516.40" y="187.00" width="3.2" height="7.50"/><rect x="523.90" y="182.00" width="3.2" height="25.00"/><rect x="541.90" y="149.00" width="3.2" height="3.00"/><rect x="545.40" y="153.50" width="3.2" height="33.50"/><rect x="555.90" y="174.00" width="3.2" height="15.00"/><rect x="559.40" y="196.50" width="3.2" height="2.00"/><rect x="570.40" y="190.00" width="3.2" height="21.00"/><rect x="573.90" y="203.50" width="3.2" height="13.00"/><rect x="580.90" y="190.00" width="3.2" height="12.00"/><rect x="595.40" y="150.00" width="3.2" height="29.50"/><rect x="598.90" y="183.50" width="3.2" height="58.00"/><rect x="606.40" y="236.00" width="3.2" height="42.50"/><rect x="609.90" y="265.00" width="3.2" height="9.00"/><rect x="616.90" y="243.50" width="3.2" height="52.00"/><rect x="631.40" y="239.50" width="3.2" height="54.50"/><rect x="638.40" y="313.50" width="3.2" height="28.00"/><rect x="641.90" y="325.50" width="3.2" height="22.00"/><rect x="645.40" y="349.50" width="3.2" height="19.00"/><rect x="663.40" y="328.00" width="3.2" height="62.00"/><rect x="666.90" y="404.00" width="3.2" height="2.00"/><rect x="670.40" y="394.00" width="3.2" height="11.00"/><rect x="691.90" y="283.50" width="3.2" height="11.00"/><rect x="695.90" y="284.00" width="3.2" height="22.00"/><rect x="702.90" y="294.50" width="3.2" height="6.00"/><rect x="706.40" y="291.50" width="3.2" height="7.50"/><rect x="713.40" y="288.00" width="3.2" height="12.00"/><rect x="717.40" y="304.50" width="3.2" height="36.00"/><rect x="720.90" y="354.00" width="3.2" height="42.50"/><rect x="724.40" y="412.00" width="3.2" height="40.00"/><rect x="727.90" y="447.50" width="3.2" height="14.00"/><rect x="734.90" y="465.00" width="3.2" height="24.50"/><rect x="738.90" y="490.50" width="3.2" height="2.00"/><rect x="756.40" y="387.50" width="3.2" height="6.00"/><rect x="760.40" y="386.50" width="3.2" height="38.50"/><rect x="763.90" y="416.50" width="3.2" height="2.50"/><rect x="767.40" y="434.00" width="3.2" height="2.00"/><rect x="785.40" y="398.50" width="3.2" height="1.00"/><rect x="788.90" y="403.50" width="3.2" height="7.00"/><rect x="792.40" y="414.00" width="3.2" height="8.50"/><rect x="806.90" y="391.50" width="3.2" height="25.00"/><rect x="820.90" y="346.50" width="3.2" height="17.50"/><rect x="828.40" y="361.00" width="3.2" height="11.50"/><rect x="846.40" y="313.00" width="3.2" height="18.00"/><rect x="853.40" y="306.00" width="3.2" height="5.50"/><rect x="860.40" y="301.50" width="3.2" height="3.00"/><rect x="863.90" y="306.00" width="3.2" height="2.50"/><rect x="871.40" y="265.50" width="3.2" height="7.00"/><rect x="885.40" y="228.50" width="3.2" height="3.00"/><rect x="892.90" y="236.00" width="3.2" height="13.00"/><rect x="896.40" y="256.50" width="3.2" height="33.50"/><rect x="899.90" y="291.50" width="3.2" height="8.00"/><rect x="910.40" y="275.50" width="3.2" height="64.00"/><rect x="914.40" y="345.00" width="3.2" height="6.50"/><rect x="917.90" y="347.00" width="3.2" height="24.00"/><rect x="921.40" y="368.50" width="3.2" height="20.00"/><rect x="928.40" y="367.00" width="3.2" height="34.00"/><rect x="931.90" y="399.50" width="3.2" height="12.00"/><rect x="949.90" y="357.00" width="3.2" height="57.50"/><rect x="953.40" y="411.50" width="3.2" height="1.50"/><rect x="957.40" y="413.50" width="3.2" height="10.50"/><rect x="960.90" y="430.00" width="3.2" height="2.50"/><rect x="967.90" y="433.50" width="3.2" height="6.50"/><rect x="971.40" y="433.00" width="3.2" height="40.00"/><rect x="974.90" y="472.00" width="3.2" height="8.00"/><rect x="978.90" y="488.00" width="3.2" height="23.00"/><rect x="982.40" y="514.50" width="3.2" height="17.00"/><rect x="985.90" y="522.50" width="3.2" height="17.50"/><rect x="992.90" y="516.00" width="3.2" height="18.50"/><rect x="996.40" y="541.00" width="3.2" height="25.50"/><rect x="1010.90" y="471.50" width="3.2" height="17.50"/><rect x="1014.40" y="505.00" width="3.2" height="24.50"/><rect x="1017.90" y="522.50" width="3.2" height="13.50"/><rect x="1025.40" y="533.50" width="3.2" height="2.00"/><rect x="1032.40" y="472.00" width="3.2" height="36.50"/><rect x="1039.40" y="440.50" width="3.2" height="11.00"/><rect x="1043.40" y="457.00" width="3.2" height="1.50"/><rect x="1046.90" y="459.00" width="3.2" height="4.50"/><rect x="1064.90" y="353.50" width="3.2" height="2.50"/><rect x="1071.90" y="309.00" width="3.2" height="2.00"/><rect x="1075.40" y="302.50" width="3.2" height="13.50"/><rect x="1078.90" y="321.00" width="3.2" height="27.50"/><rect x="1096.90" y="293.50" width="3.2" height="31.50"/><rect x="1103.90" y="243.00" width="3.2" height="3.50"/><rect x="1107.40" y="251.50" width="3.2" height="8.00"/><rect x="1111.40" y="245.50" width="3.2" height="10.50"/><rect x="1114.90" y="258.00" width="3.2" height="1.00"/></g><line x1="0" y1="258.40" x2="1316" y2="258.40" stroke="#ef5350" stroke-opacity="0.7" stroke-width="1" stroke-dasharray="1 1.5"/><line x1="324.7" y1="40.6" x2="1316" y2="342.70" stroke="#686b77" stroke-opacity="0.95" stroke-width="2.8"/><rect x="0" y="139.30" width="1316" height="1.7" fill="#ff9800"/><rect x="0" y="220.42" width="1316" height="1.7" fill="#ff9800"/><rect x="0" y="278.49" width="1316" height="1.7" fill="#ff9800"/><rect x="0" y="330.58" width="1316" height="1.7" fill="#ff9800"/><rect x="1316" y="0" width="64" height="646" fill="#fff"/><rect x="0" y="623.4" width="1380" height="23" fill="#fff"/><g fill="#6a6d78" stroke="#6a6d78" stroke-width="0.15" font-size="10.4"><text x="1324.7" y="616.20" textLength="47.6" lengthAdjust="spacingAndGlyphs">28000.00</text><text x="1324.7" y="584.33" textLength="47.6" lengthAdjust="spacingAndGlyphs">28500.00</text><text x="1324.7" y="552.46" textLength="47.6" lengthAdjust="spacingAndGlyphs">29000.00</text><text x="1324.7" y="520.59" textLength="47.6" lengthAdjust="spacingAndGlyphs">29500.00</text><text x="1324.7" y="488.72" textLength="47.6" lengthAdjust="spacingAndGlyphs">30000.00</text><text x="1324.7" y="456.85" textLength="47.6" lengthAdjust="spacingAndGlyphs">30500.00</text><text x="1324.7" y="424.98" textLength="47.6" lengthAdjust="spacingAndGlyphs">31000.00</text><text x="1324.7" y="393.11" textLength="47.6" lengthAdjust="spacingAndGlyphs">31500.00</text><text x="1324.7" y="361.24" textLength="47.6" lengthAdjust="spacingAndGlyphs">32000.00</text><text x="1324.7" y="329.37" textLength="47.6" lengthAdjust="spacingAndGlyphs">32500.00</text><text x="1324.7" y="297.50" textLength="47.6" lengthAdjust="spacingAndGlyphs">33000.00</text><text x="1324.7" y="233.76" textLength="47.6" lengthAdjust="spacingAndGlyphs">34000.00</text><text x="1324.7" y="201.89" textLength="47.6" lengthAdjust="spacingAndGlyphs">34500.00</text><text x="1324.7" y="170.02" textLength="47.6" lengthAdjust="spacingAndGlyphs">35000.00</text><text x="1324.7" y="138.15" textLength="47.6" lengthAdjust="spacingAndGlyphs">35500.00</text><text x="1324.7" y="106.28" textLength="47.6" lengthAdjust="spacingAndGlyphs">36000.00</text><text x="1324.7" y="74.41" textLength="47.6" lengthAdjust="spacingAndGlyphs">36500.00</text><text x="1324.7" y="42.54" textLength="47.6" lengthAdjust="spacingAndGlyphs">37000.00</text><text x="1324.7" y="10.67" textLength="47.6" lengthAdjust="spacingAndGlyphs">37500.00</text></g><rect x="1315.5" y="0" width="1.4" height="646" fill="#8a8d98"/><rect x="0" y="622.55" width="1380" height="1.3" fill="#8a8d98"/><path d="M1316 133.20h60.4a2 2 0 0 1 2 2v10.2a2 2 0 0 1 -2 2h-60.4z" fill="#ff9800"/><text x="1324.7" y="144.10" font-size="10.4" fill="#141414" stroke="#141414" stroke-width="0.25" textLength="47.6" lengthAdjust="spacingAndGlyphs">35406.63</text><path d="M1316 214.32h60.4a2 2 0 0 1 2 2v10.2a2 2 0 0 1 -2 2h-60.4z" fill="#ff9800"/><text x="1324.7" y="225.22" font-size="10.4" fill="#141414" stroke="#141414" stroke-width="0.25" textLength="47.6" lengthAdjust="spacingAndGlyphs">34133.91</text><path d="M1316 272.39h60.4a2 2 0 0 1 2 2v10.2a2 2 0 0 1 -2 2h-60.4z" fill="#ff9800"/><text x="1324.7" y="283.29" font-size="10.4" fill="#141414" stroke="#141414" stroke-width="0.25" textLength="47.6" lengthAdjust="spacingAndGlyphs">33222.91</text><path d="M1316 324.48h60.4a2 2 0 0 1 2 2v10.2a2 2 0 0 1 -2 2h-60.4z" fill="#ff9800"/><text x="1324.7" y="335.38" font-size="10.4" fill="#141414" stroke="#141414" stroke-width="0.25" textLength="47.6" lengthAdjust="spacingAndGlyphs">32405.69</text><path d="M1316 251.30h60.4a2 2 0 0 1 2 2v10.2a2 2 0 0 1 -2 2h-60.4z" fill="#ef5360"/><text x="1324.7" y="262.20" font-size="10.4" fill="#ffffff" stroke="#ffffff" stroke-width="0.2" textLength="47.6" lengthAdjust="spacingAndGlyphs">33553.84</text><path d="M1380 469h-71.7a2 2 0 0 0 -2 2v16a2 2 0 0 0 2 2h71.7z" fill="#363a45"/><text x="1313.4" y="482.9" font-size="10.6" fill="#e6e8ee" textLength="60.7" lengthAdjust="spacingAndGlyphs">Notifications</text><text x="23.90" y="638.9" font-size="10.5" fill="#6a6d78" stroke="#6a6d78" stroke-width="0.15" text-anchor="middle">Sep</text><text x="99.12" y="638.9" font-size="10.5" fill="#6a6d78" stroke="#6a6d78" stroke-width="0.15" text-anchor="middle">Oct</text><text x="174.34" y="638.9" font-size="10.5" fill="#6a6d78" stroke="#6a6d78" stroke-width="0.15" text-anchor="middle">Nov</text><text x="249.57" y="638.9" font-size="10.5" fill="#6a6d78" stroke="#6a6d78" stroke-width="0.15" text-anchor="middle">Dec</text><text x="328.37" y="638.9" font-size="10.6" font-weight="bold" fill="#4a4d59" text-anchor="middle" textLength="26.5" lengthAdjust="spacingAndGlyphs">2022</text><text x="400.01" y="638.9" font-size="10.5" fill="#6a6d78" stroke="#6a6d78" stroke-width="0.15" text-anchor="middle">Feb</text><text x="471.65" y="638.9" font-size="10.5" fill="#6a6d78" stroke="#6a6d78" stroke-width="0.15" text-anchor="middle">2</text><text x="550.45" y="638.9" font-size="10.5" fill="#6a6d78" stroke="#6a6d78" stroke-width="0.15" text-anchor="middle">Apr</text><text x="622.09" y="638.9" font-size="10.5" fill="#6a6d78" stroke="#6a6d78" stroke-width="0.15" text-anchor="middle">May</text><text x="697.32" y="638.9" font-size="10.5" fill="#6a6d78" stroke="#6a6d78" stroke-width="0.15" text-anchor="middle">Jun</text><text x="772.54" y="638.9" font-size="10.5" fill="#6a6d78" stroke="#6a6d78" stroke-width="0.15" text-anchor="middle">Jul</text><text x="844.18" y="638.9" font-size="10.5" fill="#6a6d78" stroke="#6a6d78" stroke-width="0.15" text-anchor="middle">Aug</text><text x="926.56" y="638.9" font-size="10.5" fill="#6a6d78" stroke="#6a6d78" stroke-width="0.15" text-anchor="middle">Sep</text><text x="1001.79" y="638.9" font-size="10.5" fill="#6a6d78" stroke="#6a6d78" stroke-width="0.15" text-anchor="middle">Oct</text><text x="1077.01" y="638.9" font-size="10.5" fill="#6a6d78" stroke="#6a6d78" stroke-width="0.15" text-anchor="middle">Nov</text><text x="1152.23" y="638.9" font-size="10.5" fill="#6a6d78" stroke="#6a6d78" stroke-width="0.15" text-anchor="middle">Dec</text><text x="1227.45" y="638.9" font-size="10.6" font-weight="bold" fill="#4a4d59" text-anchor="middle" textLength="26.5" lengthAdjust="spacingAndGlyphs">2023</text><text x="1299.09" y="638.9" font-size="10.5" fill="#6a6d78" stroke="#6a6d78" stroke-width="0.15" text-anchor="middle">Feb</text><circle cx="1348.9" cy="634.5" r="4.2" fill="none" stroke="#2a2e39" stroke-width="1.15"/><path d="M1353.38 633.47L1355.70 634.50L1353.38 635.53ZM1352.80 636.94L1353.71 639.31L1351.34 638.40ZM1349.93 638.98L1348.90 641.30L1347.87 638.98ZM1346.46 638.40L1344.09 639.31L1345.00 636.94ZM1344.42 635.53L1342.10 634.50L1344.42 633.47ZM1345.00 632.06L1344.09 629.69L1346.46 630.60ZM1347.87 630.02L1348.90 627.70L1349.93 630.02ZM1351.34 630.60L1353.71 629.69L1352.80 632.06Z" fill="#2a2e39"/><rect x="1.5" y="4.7" width="64.8" height="19.6" rx="3.2" fill="#fff" stroke="#f7525f" stroke-width="1.15"/><text x="8.5" y="18.9" font-size="11" fill="#f7525f" stroke="#f7525f" stroke-width="0.2" textLength="50.5" lengthAdjust="spacingAndGlyphs">33553.84</text><text x="73.7" y="18.5" font-size="10" fill="#787b86" textLength="19.9" lengthAdjust="spacingAndGlyphs">0.00</text><rect x="102" y="4.7" width="63.8" height="19.6" rx="3.2" fill="#fff" stroke="#4f7bff" stroke-width="1.15"/><text x="108.5" y="18.9" font-size="11" fill="#3d6bff" stroke="#3d6bff" stroke-width="0.2" textLength="50.4" lengthAdjust="spacingAndGlyphs">33553.84</text><circle cx="14.3" cy="603.6" r="14.2" fill="#fff" stroke="#e4e6ec" stroke-width="1"/><g transform="translate(5.4,597.5) scale(0.518)" fill="#131722"><path d="M14 22H7V11H0V4h14v18zM28 22h-8l7.5-18h8L28 22z"/><circle cx="20" cy="8" r="4"/></g></svg></body></html>
